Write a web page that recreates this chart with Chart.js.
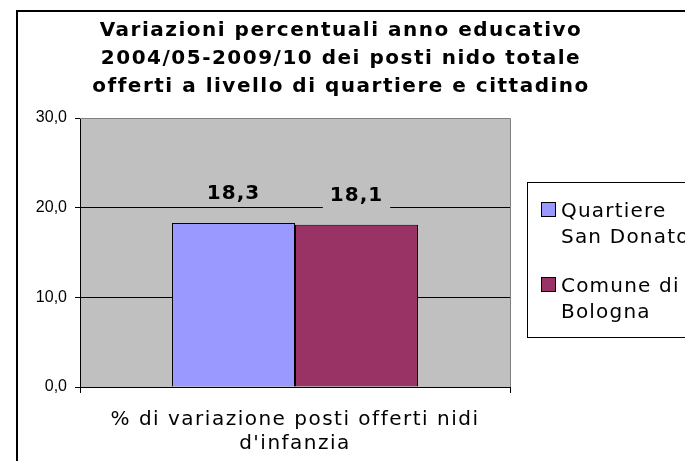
<!DOCTYPE html>
<html>
<head>
<meta charset="utf-8">
<script src="https://cdn.jsdelivr.net/npm/chart.js@4/dist/chart.umd.min.js"></script>
<style>
  html, body { margin: 0; padding: 0; background: #fff; }
  #wrap { width: 685px; height: 461px; }
</style>
</head>
<body>
<div id="wrap"><canvas id="c" width="685" height="461"></canvas></div>
<script>
// data
const categories = [["% di variazione posti offerti nidi", "d'infanzia"]];
const seriesNames = ['Quartiere San Donato', 'Comune di Bologna'];
const legendLines = [['Quartiere', 'San Donato'], ['Comune di', 'Bologna']];
const sanDonato = [18.3];
const bologna = [18.1];
const yTicks = [0, 10, 20, 30];
const titleLines = [
  'Variazioni percentuali anno educativo',
  '2004/05-2009/10 dei posti nido totale',
  'offerti a livello di quartiere e cittadino'
];

const fmt = v => v.toFixed(1).replace('.', ',');

const frame = {
  id: 'frame',
  beforeDraw(chart) {
    const { ctx, chartArea: a } = chart;
    ctx.save();
    ctx.fillStyle = '#C0C0C0';
    ctx.fillRect(a.left, a.top, a.right - a.left, a.bottom - a.top);
    ctx.restore();
  },
  beforeDatasetsDraw(chart) {
    const { ctx, chartArea: a } = chart;
    ctx.save();
    ctx.strokeStyle = '#808080';
    ctx.lineWidth = 1;
    ctx.beginPath();
    ctx.moveTo(a.left, a.top + 0.5);
    ctx.lineTo(a.right + 0.5, a.top + 0.5);
    ctx.lineTo(a.right + 0.5, a.bottom);
    ctx.stroke();
    ctx.restore();
  },
  afterDatasetsDraw(chart) {
    const { ctx } = chart;
    ctx.save();
    ctx.font = 'bold 20px "DejaVu Sans"';
    ctx.letterSpacing = '1px';
    ctx.textAlign = 'center';
    ctx.textBaseline = 'middle';
    chart.data.datasets.forEach((ds, i) => {
      chart.getDatasetMeta(i).data.forEach((bar, j) => {
        const txt = fmt(ds.data[j]);
        const w = ctx.measureText(txt).width + 14;
        const y = bar.y - 29;
        ctx.fillStyle = '#C0C0C0';
        ctx.fillRect(bar.x - w / 2, y - 13, w, 26);
        ctx.fillStyle = '#000';
        ctx.fillText(txt, bar.x, y);
      });
    });
    ctx.restore();
  },
  afterDraw(chart) {
    const { ctx } = chart;
    const xs = chart.scales.x;
    ctx.save();
    // outer chart border
    ctx.strokeStyle = '#000';
    ctx.lineWidth = 2;
    ctx.strokeRect(17, 11, 720, 500);
    // title
    ctx.fillStyle = '#000';
    ctx.font = 'bold 20px "DejaVu Sans"';
    ctx.letterSpacing = '1.5px';
    ctx.textAlign = 'center';
    ctx.textBaseline = 'middle';
    titleLines.forEach((t, i) => ctx.fillText(t, 341, 31 + i * 28));
    // category label under the axis
    ctx.font = '20px "DejaVu Sans"';
    chart.data.labels.forEach((lab, j) => {
      const x = xs.getPixelForTick(j);
      lab.forEach((l, k) => ctx.fillText(l, x, xs.top + 33 + k * 24));
    });
    // legend
    ctx.letterSpacing = '1.2px';
    ctx.lineWidth = 1;
    ctx.strokeStyle = '#000';
    ctx.fillStyle = '#fff';
    ctx.fillRect(527.5, 182.5, 200, 155);
    ctx.strokeRect(527.5, 182.5, 200, 155);
    ctx.textAlign = 'left';
    ctx.textBaseline = 'alphabetic';
    chart.data.datasets.forEach((ds, i) => {
      const y0 = 217 + i * 75;
      ctx.fillStyle = ds.backgroundColor;
      ctx.fillRect(541.5, y0 - 14.5, 14, 14);
      ctx.strokeRect(541.5, y0 - 14.5, 14, 14);
      ctx.fillStyle = '#000';
      legendLines[i].forEach((l, k) => ctx.fillText(l, 561, y0 + k * 26));
    });
    ctx.restore();
  }
};

new Chart(document.getElementById('c'), {
  type: 'bar',
  data: {
    labels: categories,
    datasets: [
      { label: seriesNames[0], data: sanDonato, backgroundColor: '#9999FF', borderColor: '#000', borderWidth: 1 },
      { label: seriesNames[1], data: bologna, backgroundColor: '#993366', borderColor: '#000', borderWidth: 1 }
    ]
  },
  options: {
    responsive: false,
    animation: false,
    layout: { padding: { top: 118, right: 175, left: 0, bottom: 0 } },
    datasets: { bar: { categoryPercentage: 0.572, barPercentage: 1.0 } },
    plugins: { legend: { display: false }, title: { display: false }, tooltip: { enabled: false } },
    scales: {
      x: {
        offset: true,
        afterFit: s => { s.height = 74; },
        grid: { offset: true, drawOnChartArea: false, tickLength: 6, tickColor: '#000' },
        border: { color: '#000', width: 1 },
        ticks: { display: false }
      },
      y: {
        min: 0, max: 30,
        afterFit: s => { s.width = 80; },
        afterBuildTicks: s => { s.ticks = yTicks.map(v => ({ value: v })); },
        grid: {
          color: c => (c.tick && c.tick.value > 0 && c.tick.value < 30) ? '#000' : 'rgba(0,0,0,0)',
          tickColor: '#000', tickLength: 5, lineWidth: 1
        },
        border: { color: '#000', width: 1 },
        ticks: { color: '#000', font: { family: '"Liberation Sans"', size: 16 }, padding: 8, callback: v => fmt(v) }
      }
    }
  },
  plugins: [frame]
});
</script>
</body>
</html>
